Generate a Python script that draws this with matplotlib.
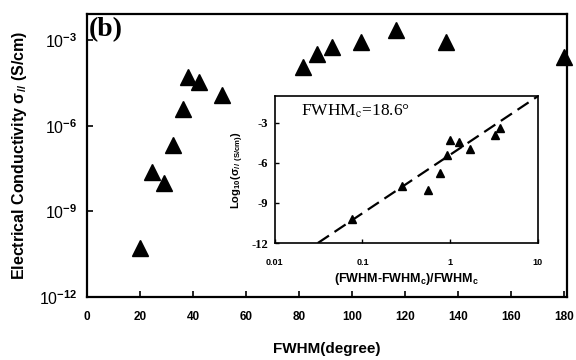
import numpy as np
import matplotlib
matplotlib.use('Agg')
import matplotlib.pyplot as plt

plt.rcParams['font.family'] = 'Liberation Sans'
plt.rcParams['mathtext.fontset'] = 'custom'
plt.rcParams['mathtext.rm'] = 'Liberation Sans:bold'
plt.rcParams['mathtext.it'] = 'Liberation Sans:bold'
plt.rcParams['mathtext.bf'] = 'Liberation Sans:bold'
plt.rcParams['mathtext.default'] = 'bf'

# Main panel: FWHM (degree) vs log10 conductivity (S/cm)
fwhm = [20, 24.5, 29, 32.5, 36.2, 38.1, 42.3, 50.9, 81.5, 86.8, 92.5, 103.4, 116.6, 135.5, 180]
log_sigma = [-10.27, -7.62, -8.0, -6.67, -5.4, -4.31, -4.48, -4.94,
             -3.95, -3.49, -3.25, -3.07, -2.65, -3.07, -3.6]
main_yticks = [1e-12, 1e-9, 1e-6, 1e-3]
main_yticklabels = [r'10$^{-12}$', r'10$^{-9}$', r'10$^{-6}$', r'10$^{-3}$']

# Inset: reduced FWHM vs log10 conductivity
red_fwhm = [0.075, 0.28, 0.56, 0.76, 0.93, 1.0, 1.25, 1.7, 3.25, 3.7]
inset_log_sigma = [-10.2, -7.7, -8.0, -6.73, -5.4, -4.27, -4.4, -4.95, -3.9, -3.4]
fit_x = [0.031, 10]
fit_y = [-12, -1]

fig = plt.figure(figsize=(5.76, 3.6), dpi=100)
ax = fig.add_axes([0.151, 0.175, 0.833, 0.786])

sigma = 10.0 ** np.array(log_sigma)
ax.semilogy(fwhm, sigma, '^', color='black', ms=11, clip_on=False, zorder=5)
ax.set_xlim(0, 181)
ax.set_ylim(1e-12, 10 ** -2.09)
ax.set_xticks(range(0, 181, 20))
ax.set_xticklabels([str(v) for v in range(0, 181, 20)], fontsize=8.5, fontweight='bold')
ax.set_yticks(main_yticks)
ax.set_yticklabels(main_yticklabels, fontsize=11.5)
ax.minorticks_off()
ax.tick_params(axis='x', direction='in', length=4, width=1.2, pad=10)
ax.tick_params(axis='y', direction='in', length=4, width=1.2, pad=7)
for s in ax.spines.values():
    s.set_linewidth(1.6)

ax.set_xlabel('FWHM(degree)', fontsize=11, fontweight='bold', labelpad=14)
ax.set_ylabel(r'Electrical Conductivity $\sigma_{//}$ (S/cm)', fontsize=11.5,
              fontweight='bold', labelpad=7)
ax.text(0.003, 0.99, '(b)', transform=ax.transAxes, ha='left', va='top',
        fontsize=20, fontweight='bold', family='Liberation Serif')

# Inset
axi = fig.add_axes([0.477, 0.325, 0.457, 0.408])
axi.semilogx(red_fwhm, inset_log_sigma, '^', color='black', ms=6, zorder=5)
axi.plot(fit_x, fit_y, color='black', lw=1.6, dashes=(6, 3))
axi.set_xlim(0.01, 10)
axi.set_ylim(-12, -1)
axi.set_xticks([0.01, 0.1, 1, 10])
axi.set_xticklabels(['0.01', '0.1', '1', '10'], fontsize=6.5, fontweight='bold')
axi.set_yticks([-12, -9, -6, -3])
axi.set_yticklabels(['-12', '-9', '-6', '-3'], fontsize=9, fontweight='bold',
                    family='Liberation Serif')
axi.minorticks_off()
axi.tick_params(axis='x', direction='in', length=3, width=1, pad=11)
axi.tick_params(axis='y', direction='in', length=3, width=1, pad=5)
for s in axi.spines.values():
    s.set_linewidth(1.2)
axi.set_xlabel(r'(FWHM-FWHM$_c$)/FWHM$_c$', fontsize=9, fontweight='bold', labelpad=3)
axi.set_ylabel(r'Log$_{10}$($\sigma_{//}$ $_{(S/cm)}$)', fontsize=8, fontweight='bold',
               labelpad=4)
axi.text(0.1, 0.9, r'FWHM$_\mathrm{c}$=18.6°', transform=axi.transAxes, ha='left',
         va='center', fontsize=12.5, family='Liberation Serif', math_fontfamily='stix')

fig.savefig('out.png', dpi=100)
